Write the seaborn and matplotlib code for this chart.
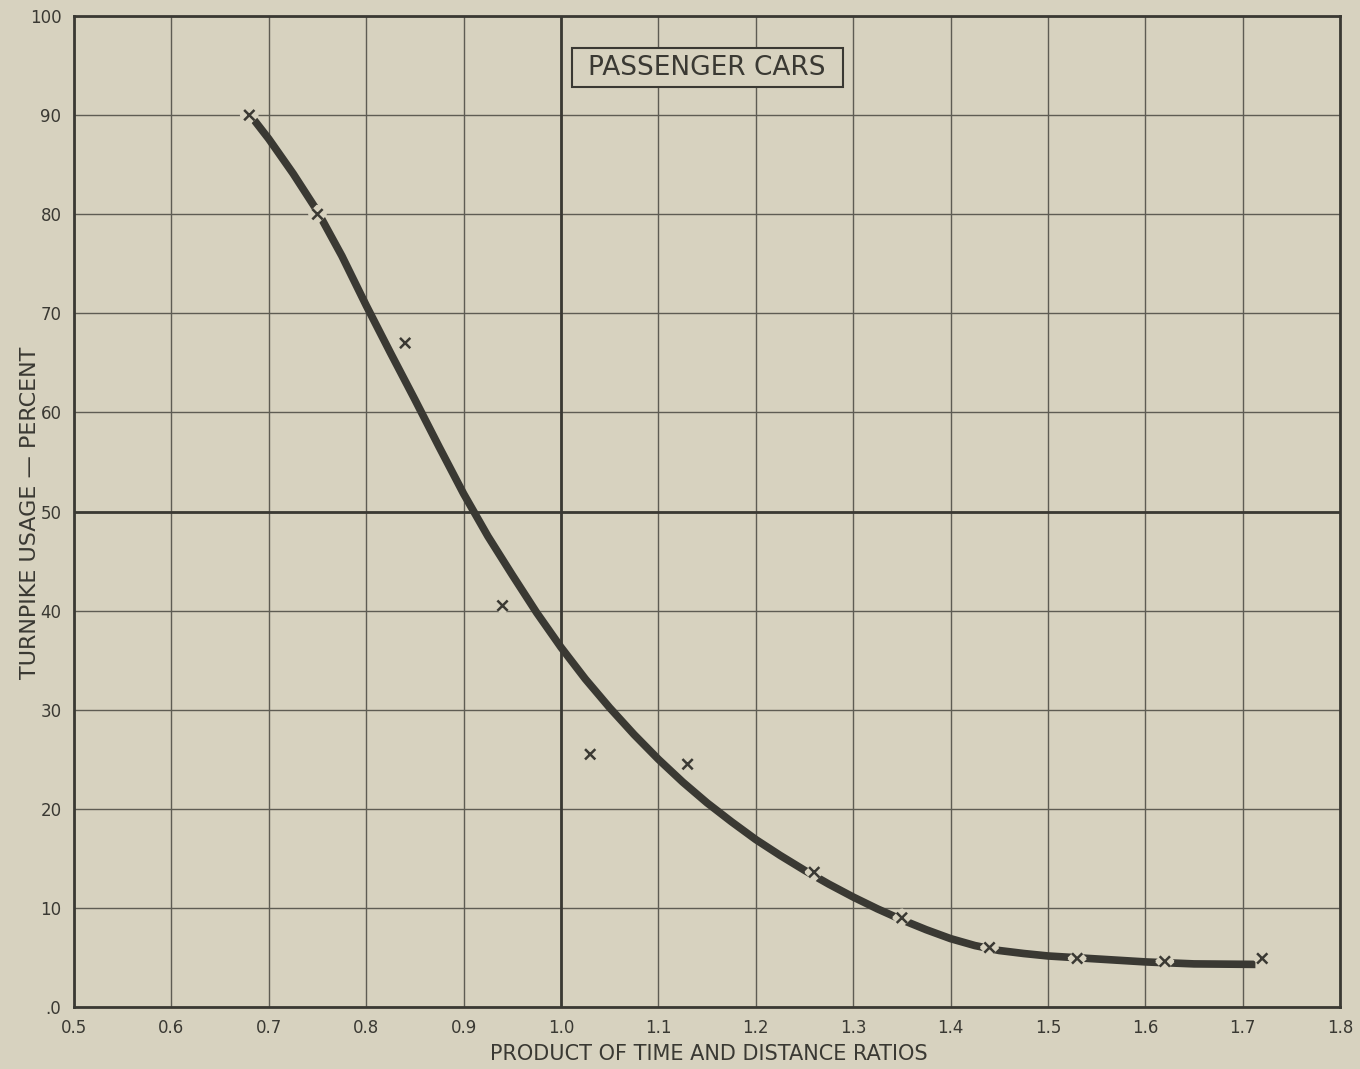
import numpy as np
import pandas as pd
import matplotlib
matplotlib.use("Agg")
import matplotlib.pyplot as plt
import matplotlib.patheffects as pe
from matplotlib.patches import Rectangle
import seaborn as sns

# Observed data points (x markers)
point_x = [0.68, 0.75, 0.84, 0.94, 1.03, 1.13, 1.26, 1.35, 1.44, 1.53, 1.62, 1.72]
point_y = [90.0, 80.0, 67.0, 40.5, 25.5, 24.5, 13.6, 9.0, 6.0, 4.9, 4.6, 4.9]

# Fitted curve
curve_x = [0.685, 0.70, 0.725, 0.75, 0.775, 0.80, 0.825, 0.85, 0.875, 0.90,
           0.925, 0.95, 0.975, 1.00, 1.025, 1.05, 1.075, 1.10, 1.125, 1.15,
           1.175, 1.20, 1.225, 1.25, 1.275, 1.30, 1.325, 1.35, 1.375, 1.40,
           1.425, 1.45, 1.475, 1.50, 1.55, 1.60, 1.65, 1.713]
curve_y = [89.5, 87.6, 84.1, 80.3, 75.8, 70.8, 66.0, 61.3, 56.5, 51.8,
           47.5, 43.6, 39.8, 36.3, 33.1, 30.2, 27.5, 25.0, 22.7, 20.6,
           18.7, 16.9, 15.3, 13.8, 12.4, 11.1, 9.9, 8.8, 7.8, 6.9,
           6.2, 5.7, 5.4, 5.15, 4.85, 4.55, 4.35, 4.3]

x_ticks = [0.5, 0.6, 0.7, 0.8, 0.9, 1.0, 1.1, 1.2, 1.3, 1.4, 1.5, 1.6, 1.7, 1.8]
x_tick_labels = ["0.5", "0.6", "0.7", "0.8", "0.9", "1.0", "1.1", "1.2", "1.3",
                 "1.4", "1.5", "1.6", "1.7", "1.8"]
y_ticks = [0, 10, 20, 30, 40, 50, 60, 70, 80, 90, 100]
y_tick_labels = [".0", "10", "20", "30", "40", "50", "60", "70", "80", "90", "100"]

title_text = "PASSENGER CARS"
x_label = "PRODUCT OF TIME AND DISTANCE RATIOS"
y_label = "TURNPIKE USAGE — PERCENT"

BG = "#d7d2bf"
INK = "#3a3933"
GRID = "#5e5c53"

sns.set_theme(style="white")
plt.rcParams["font.family"] = ["DejaVu Sans"]

fig = plt.figure(figsize=(13.6, 10.69), dpi=100, facecolor=BG)
ax = fig.add_axes([0.0544, 0.058, 0.931, 0.927])
ax.set_facecolor(BG)

ax.set_xlim(0.5, 1.8)
ax.set_ylim(0, 100)
ax.set_xticks(x_ticks)
ax.set_xticklabels(x_tick_labels)
ax.set_yticks(y_ticks)
ax.set_yticklabels(y_tick_labels)
ax.tick_params(length=0, labelsize=12, colors=INK, pad=9)
ax.grid(True, color=GRID, linewidth=1.0)
ax.set_axisbelow(True)
ax.axvline(1.0, color=INK, linewidth=2.0, zorder=1)
ax.axhline(50, color=INK, linewidth=2.0, zorder=1)
for s in ax.spines.values():
    s.set_color(INK)
    s.set_linewidth(2.0)

curve = pd.DataFrame({"x": curve_x, "y": curve_y})
pts = pd.DataFrame({"x": point_x, "y": point_y})

sns.lineplot(data=curve, x="x", y="y", ax=ax, color=INK, linewidth=5.5,
             solid_capstyle="butt", solid_joinstyle="round", zorder=3, sort=False)
sns.scatterplot(data=pts, x="x", y="y", ax=ax, marker="x", s=55, color=INK,
                linewidth=1.8, zorder=4,
                path_effects=[pe.Stroke(linewidth=9, foreground=BG), pe.Normal()])

ax.set_xlabel(x_label, fontsize=15, color=INK)
ax.set_ylabel(y_label, fontsize=16, color=INK)
ax.xaxis.set_label_coords(0.5016, -0.037)
ax.yaxis.set_label_coords(-0.027, 0.4985)

# title box
ax.add_patch(Rectangle((0.3934, 0.9284), 0.214, 0.0393, transform=ax.transAxes,
                       facecolor=BG, edgecolor=INK, linewidth=1.5, zorder=5))
ax.text(0.5, 0.948, title_text, transform=ax.transAxes, fontsize=19,
        color=INK, ha="center", va="center", zorder=6)

fig.savefig("out.png", dpi=100, facecolor=BG)
